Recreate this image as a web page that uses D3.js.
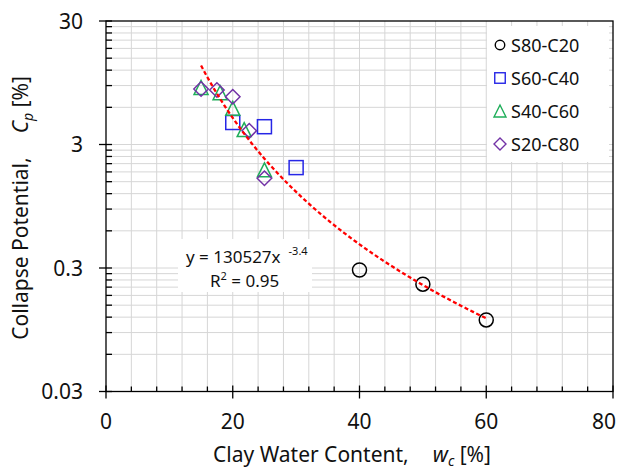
<!DOCTYPE html>
<html>
<head>
<meta charset="utf-8">
<script src="https://cdn.jsdelivr.net/npm/d3@7"></script>
<style>
  html, body { margin: 0; padding: 0; background: #fff; }
  svg { display: block; font-family: "Noto Sans", sans-serif; }
</style>
</head>
<body>
<svg id="chart" width="620" height="472"></svg>
<script>
// ---- data ----
const seriesNames = ["S80-C20", "S60-C40", "S40-C60", "S20-C80"];
const s80c20_x = [40, 50, 60];
const s80c20_y = [0.289, 0.222, 0.114];
const s60c40_x = [20, 25, 30];
const s60c40_y = [4.52, 4.18, 1.95];
const s40c60_x = [15, 18, 20, 21.8, 25];
const s40c60_y = [8.68, 7.88, 5.89, 3.96, 1.87];
const s20c80_x = [15, 17.5, 20, 22.6, 25];
const s20c80_y = [8.44, 8.29, 7.31, 3.87, 1.60];

// fitted power trendline (as printed on the chart)
const trendA = 130527;
const trendB = -3.4;
const trendRange = [15, 60];
const trendLabel = "y = 130527x";
const trendExpLabel = "-3.4";
const r2Value = "0.95";

const xTicks = [0, 20, 40, 60, 80];
const xMinorStep = 4;
const yMajorTicks = [0.03, 0.3, 3, 30];
const yTickLabels = ["0.03", "0.3", "3", "30"];

// ---- layout ----
const svg = d3.select("#chart");
const W = 620;
const L = 106, R = 613, T = 21, B = 391.5;
const x = d3.scaleLinear().domain([0, 80]).range([L, R]);
const y = d3.scaleLog().domain([0.03, 30]).range([B, T]);

const colors = ["#000000", "#2626e6", "#1fae5a", "#7232a6"];
const shapes = ["circle", "square", "triangle", "diamond"];

// gridlines
const grid = svg.append("g").attr("stroke", "#d6d6d6").attr("stroke-width", 1).attr("fill", "none");
const xMinor = d3.range(0, 80 + 0.001, xMinorStep).filter(v => v > 0 && v < 80);
grid.selectAll("line.vx").data(xMinor).join("line")
  .attr("x1", d => x(d)).attr("x2", d => x(d)).attr("y1", T).attr("y2", B);
const yMinor = [];
yMajorTicks.slice(0, -1).forEach(b => { for (let k = 2; k <= 9; k++) yMinor.push(b * k); });
const yGridVals = yMinor.concat(yMajorTicks.slice(1, -1));
grid.selectAll("line.hy").data(yGridVals).join("line")
  .attr("x1", L).attr("x2", R).attr("y1", d => y(d)).attr("y2", d => y(d));

// frame
svg.append("rect").attr("x", L).attr("y", T).attr("width", R - L).attr("height", B - T)
  .attr("fill", "none").attr("stroke", "#000").attr("stroke-width", 1.3);

// ticks
const tk = svg.append("g").attr("stroke", "#000").attr("stroke-width", 1.3);
tk.selectAll("line.xmaj").data(xTicks).join("line")
  .attr("x1", d => x(d)).attr("x2", d => x(d)).attr("y1", B - 6).attr("y2", B + 7);
tk.selectAll("line.xmin").data(xMinor.filter(v => xTicks.indexOf(v) < 0)).join("line")
  .attr("x1", d => x(d)).attr("x2", d => x(d)).attr("y1", B - 5).attr("y2", B);
tk.selectAll("line.ymaj").data(yMajorTicks).join("line")
  .attr("x1", L - 7).attr("x2", L + 6).attr("y1", d => y(d)).attr("y2", d => y(d));
tk.selectAll("line.ymin").data(yMinor).join("line")
  .attr("x1", L).attr("x2", L + 6).attr("y1", d => y(d)).attr("y2", d => y(d));

// tick labels (the last x label is kept inside the picture, as the original does)
svg.append("g").selectAll("text").data(xTicks).join("text")
  .attr("x", d => Math.min(x(d), W - 16)).attr("y", 429).attr("text-anchor", "middle")
  .attr("font-size", 21).attr("fill", "#111").text(d => d);
svg.append("g").selectAll("text").data(yMajorTicks).join("text")
  .attr("x", 83).attr("y", d => y(d) + 7.5).attr("text-anchor", "end")
  .attr("font-size", 21).attr("fill", "#111").text((d, i) => yTickLabels[i]);

// axis titles
const xt = svg.append("text").attr("x", 352).attr("y", 462).attr("text-anchor", "middle")
  .attr("font-size", 21).attr("fill", "#111");
xt.append("tspan").text("Clay Water Content,");
xt.append("tspan").attr("dx", 24).attr("font-style", "italic").text("w");
xt.append("tspan").attr("font-style", "italic").attr("font-size", 14).attr("dy", 4).text("c");
xt.append("tspan").attr("dy", -4).text(" [%]");

const yt = svg.append("text").attr("transform", "translate(28,208) rotate(-90)")
  .attr("text-anchor", "middle").attr("font-size", 21).attr("fill", "#111");
yt.append("tspan").text("Collapse Potential,");
yt.append("tspan").attr("dx", 24).attr("font-style", "italic").text("C");
yt.append("tspan").attr("font-style", "italic").attr("font-size", 14).attr("dy", 5).text("p");
yt.append("tspan").attr("dy", -5).text(" [%]");

// marker drawing
function marker(g, shape, cx, cy, s) {
  const h = s / 2;
  if (shape === "circle") {
    g.append("circle").attr("cx", cx).attr("cy", cy).attr("r", h);
  } else if (shape === "square") {
    g.append("rect").attr("x", cx - h).attr("y", cy - h).attr("width", s).attr("height", s);
  } else if (shape === "triangle") {
    g.append("path").attr("d", `M${cx},${cy - h}L${cx + h},${cy + h}L${cx - h},${cy + h}Z`);
  } else {
    g.append("path").attr("d", `M${cx},${cy - h}L${cx + h},${cy}L${cx},${cy + h}L${cx - h},${cy}Z`);
  }
}
const allSeries = [
  [s80c20_x, s80c20_y], [s60c40_x, s60c40_y], [s40c60_x, s40c60_y], [s20c80_x, s20c80_y]
];
const plotSizes = [14, 14, 14, 14.5];
allSeries.forEach((s, i) => {
  const g = svg.append("g").attr("fill", "none").attr("stroke", colors[i]).attr("stroke-width", 1.5);
  s[0].forEach((xv, j) => marker(g, shapes[i], x(xv), y(s[1][j]), plotSizes[i]));
});

// trendline
const trendXs = d3.range(trendRange[0], trendRange[1] + 0.001, 0.5);
svg.append("path")
  .datum(trendXs)
  .attr("fill", "none").attr("stroke", "#ff0000").attr("stroke-width", 2.3)
  .attr("stroke-dasharray", "4,2.5")
  .attr("d", d3.line().x(d => x(d)).y(d => y(trendA * Math.pow(d, trendB))));

// equation box
svg.append("rect").attr("x", 178).attr("y", 239).attr("width", 134).attr("height", 53).attr("fill", "#fff");
const eq = svg.append("text").attr("x", 186).attr("y", 263).attr("font-size", 17).attr("fill", "#111");
eq.append("tspan").text(trendLabel);
eq.append("tspan").attr("dx", 8).attr("dy", -8).attr("font-size", 11).text(trendExpLabel);
const r2 = svg.append("text").attr("x", 210).attr("y", 287).attr("font-size", 17).attr("fill", "#111");
r2.append("tspan").text("R");
r2.append("tspan").attr("font-size", 11).attr("dy", -7).text("2");
r2.append("tspan").attr("dy", 7).text(" = " + r2Value);

// legend
svg.append("rect").attr("x", 487).attr("y", 26).attr("width", 122).attr("height", 136).attr("fill", "#fff");
const legSizes = [9.5, 10.5, 12, 12];
seriesNames.forEach((name, i) => {
  const cy = 45 + i * 33;
  const g = svg.append("g").attr("fill", "none").attr("stroke", colors[i]).attr("stroke-width", 1.4);
  marker(g, shapes[i], 500, cy, legSizes[i]);
  svg.append("text").attr("x", 511).attr("y", cy + 6.5).attr("font-size", 18).attr("fill", "#111").text(name);
});
</script>
</body>
</html>
